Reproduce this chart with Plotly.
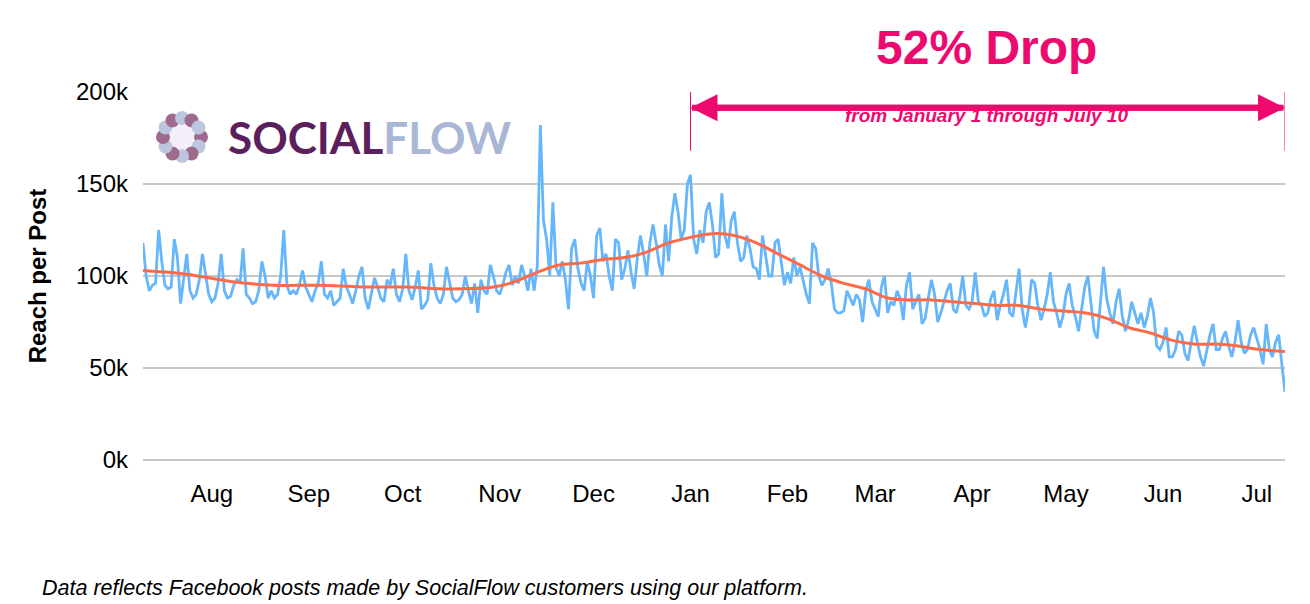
import plotly.graph_objects as go
import pandas as pd
import math

weeks = [
 [118,100,92,95,96,125,108],[95,93,94,120,110,85,100],[112,92,88,90,98,112,100],[90,86,88,96,112,92,88],
 [89,95,98,96,115,90,88],[85,86,92,108,100,88,92],[88,90,100,125,95,90,92],[90,95,103,94,90,86,92],
 [96,108,90,88,92,84,86],[88,104,94,90,85,92,100],[105,88,82,90,99,94,88],[86,98,95,104,90,86,93],
 [112,92,87,94,103,82,84],[87,107,95,88,85,90,105],[97,88,86,87,90,100,92],[85,96,80,98,92,90,106],
 [100,92,90,95,102,106,95],[100,96,106,100,92,104,92],[105,182,130,120,100,140,105],[100,108,98,82,115,120,104],
 [96,92,108,100,88,122,126],[108,112,100,92,120,118,98],[104,114,102,93,110,122,112],[100,118,128,118,106,100,128],
 [108,132,145,135,120,125,150],[155,120,112,125,118,135,140],[128,110,112,145,122,115,130],[135,118,108,110,122,115,105],
 [104,98,122,112,100,100,118],[120,108,95,102,96,110,100],[105,98,90,85,118,115,100],[95,98,104,96,82,80,80],
 [81,92,88,84,90,87,75],[92,98,86,82,78,94,100],[80,86,84,92,88,76,95],[102,82,86,90,74,77,88],
 [98,90,75,80,86,92,96],[82,80,88,100,84,82,86],[102,86,84,78,80,88,92],[76,84,90,98,80,78,92],
 [104,82,72,82,98,96,84],[76,82,90,102,86,80,72],[78,90,96,84,78,70,82],[94,100,86,70,66,86,105],
 [88,80,74,86,93,78,70],[76,86,80,74,80,72,78],[88,80,62,60,64,72,56],[56,60,70,68,58,54,64],
 [73,64,56,51,60,68,74],[60,60,66,70,62,56,64],[76,64,58,60,68,72,66],[60,52,74,60,56,64,68],
 [52,37]]
daily_reach = [v for w in weeks for v in w]
dates = pd.date_range("2017-07-10", periods=len(daily_reach), freq="D")

avg_dates = ["2017-07-10","2017-07-24","2017-08-07","2017-08-21","2017-09-04","2017-09-18","2017-10-02",
 "2017-10-16","2017-10-30","2017-11-06","2017-11-13","2017-11-20","2017-11-27","2017-12-04","2017-12-11",
 "2017-12-18","2017-12-25","2018-01-01","2018-01-08","2018-01-15","2018-01-22","2018-01-29","2018-02-05",
 "2018-02-12","2018-02-19","2018-02-26","2018-03-05","2018-03-12","2018-03-19","2018-03-26","2018-04-02",
 "2018-04-09","2018-04-16","2018-04-23","2018-04-30","2018-05-07","2018-05-14","2018-05-21","2018-05-28",
 "2018-06-04","2018-06-11","2018-06-18","2018-06-25","2018-07-02","2018-07-10"]
avg_reach = [103,101,97,95,95,94,94,93,94,97,102,106,107,109,110,113,118,121,123,122,118,112,106,
 100,96,93,88,87,87,86,85,84,84,82,81,80,77,72,69,65,63,63,62,60,59]

month_ticks = ["2017-08-01","2017-09-01","2017-10-01","2017-11-01","2017-12-01","2018-01-01","2018-02-01",
 "2018-03-01","2018-04-01","2018-05-01","2018-06-01","2018-07-01"]
month_labels = ["Aug","Sep","Oct","Nov","Dec","Jan","Feb","Mar","Apr","May","Jun","Jul"]

MAG = "#ec0a6e"
fig = go.Figure()
fig.add_trace(go.Scatter(x=dates, y=daily_reach, mode="lines", line=dict(color="#66b6fb", width=2.8), hoverinfo="skip"))
fig.add_trace(go.Scatter(x=avg_dates, y=avg_reach, mode="lines", line=dict(color="#ff6a48", width=3, shape="spline"), hoverinfo="skip"))

fig.update_layout(
    width=1310, height=604, margin=dict(l=135, r=33, t=84, b=152),
    plot_bgcolor="white", paper_bgcolor="white", showlegend=False,
    font=dict(family="Liberation Sans, Arial", size=24, color="black"),
    xaxis=dict(range=["2017-07-10","2018-07-10"], tickvals=month_ticks, ticktext=month_labels,
               showgrid=False, ticks="", showline=False, tickfont=dict(size=24), ticklabelstandoff=17),
    yaxis=dict(range=[0,200], tickvals=[0,50,100,150,200], ticktext=["0k","50k","100k","150k","200k"],
               gridcolor="#c8c8c8", gridwidth=1.5, zeroline=True, zerolinecolor="#c8c8c8", zerolinewidth=1.5,
               ticks="", ticklabelstandoff=14, tickfont=dict(size=24),
               title=dict(text="<b>Reach per Post</b>", font=dict(size=24), standoff=22)),
)

ann = []
ann.append(dict(xref="paper", yref="paper", x=0.739, y=1.12, xanchor="center", yanchor="middle",
                text="<b>52% Drop</b>", showarrow=False, font=dict(size=48, color=MAG)))
ann.append(dict(xref="paper", yref="paper", x=0.739, y=0.935, xanchor="center", yanchor="middle",
                text="<b><i>from January 1 through July 10</i></b>",
                showarrow=False, font=dict(size=19, color=MAG)))
ann.append(dict(x="2018-01-01", y=191.5, ax="2018-07-10", ay=191.5, axref="x", ayref="y", xref="x", yref="y",
                text="", showarrow=True, arrowhead=2, arrowsize=0.9, arrowwidth=6, arrowcolor=MAG))
ann.append(dict(x="2018-07-10", y=191.5, ax="2018-01-01", ay=191.5, axref="x", ayref="y", xref="x", yref="y",
                text="", showarrow=True, arrowhead=2, arrowsize=0.9, arrowwidth=6, arrowcolor=MAG))
ann.append(dict(xref="paper", yref="paper", x=(226-143)/1142, y=(460-137)/368, xanchor="left", yanchor="middle",
                text="<span style='color:#5b1f5e'><b>SOCIAL</b></span><span style='color:#a9b6d6'><b>FLOW</b></span>",
                showarrow=False, font=dict(size=44, family="Lato, Liberation Sans")))
ann.append(dict(xref="paper", yref="paper", x=(40-143)/1142, y=(460-588)/368, xanchor="left", yanchor="middle",
                text="<i>Data reflects Facebook posts made by SocialFlow customers using our platform.</i>",
                showarrow=False, font=dict(size=21.5)))
fig.update_layout(annotations=ann)

shapes = []
for d in ["2018-01-01", "2018-07-10"]:
    shapes.append(dict(type="line", xref="x", yref="y", x0=d, x1=d, y0=168, y1=213, line=dict(color=MAG, width=1)))
# logo flower
cx, cy = 182, 137
for i in range(12):
    a = i * math.pi / 6
    px, py = cx + 19 * math.cos(a), cy + 19 * math.sin(a)
    col = "#9e6b8e" if i % 2 == 0 else "#bcc6df"
    r = 7
    shapes.append(dict(type="circle", xref="paper", yref="paper", layer="above",
                       x0=(px - r - 143) / 1142, x1=(px + r - 143) / 1142,
                       y0=(460 - py - r) / 368, y1=(460 - py + r) / 368,
                       fillcolor=col, line=dict(width=0)))
shapes.append(dict(type="circle", xref="paper", yref="paper", layer="above",
                   x0=(cx - 12 - 143) / 1142, x1=(cx + 12 - 143) / 1142,
                   y0=(460 - cy - 12) / 368, y1=(460 - cy + 12) / 368, fillcolor="#f4eef8", line=dict(width=0)))
fig.update_layout(shapes=shapes)

fig.write_html("out.html")
